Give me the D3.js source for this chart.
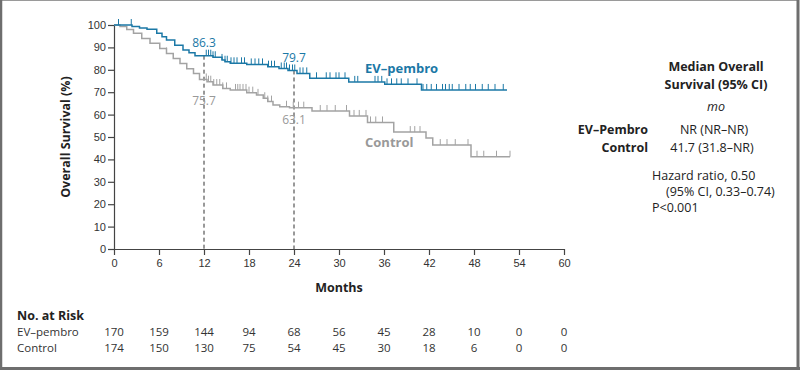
<!DOCTYPE html>
<html>
<head>
<meta charset="utf-8">
<title>Overall Survival</title>
<script src="https://cdn.jsdelivr.net/npm/d3@7"></script>
<style>
	html, body { margin: 0; padding: 0; background: white; }
	svg { display: block; font-family: 'Open Sans', sans-serif; }
	.axis path, .axis line { stroke: #444; stroke-width: 1.2; }
	.axis text { fill: #333; font-size: 11px; }
</style>
</head>
<body>
<svg id="chart" width="800" height="370"></svg>
<script>

// Kaplan-Meier steps (months, % surviving)
var evTimes = [0, 2.4, 3.4, 4.4, 5.7, 6.4, 7.0, 8.1, 9.2, 10.0, 10.8, 13.2, 14.4, 14.8, 15.5, 17.7, 20.5, 22.0, 23.2, 24.4, 26.1, 31.3, 36.1, 41.0];
var evSurv  = [100, 99.3, 98.7, 98.1, 96.3, 94.8, 93.3, 91.0, 88.8, 87.6, 86.3, 85.6, 84.4, 83.6, 82.9, 82.4, 81.4, 80.6, 79.7, 78.4, 76.2, 74.6, 73.5, 71.0];
var evEnd = 52.4;

var ctTimes = [0, 0.8, 1.7, 2.6, 3.7, 4.8, 6.1, 7.0, 7.9, 8.8, 9.7, 10.6, 11.4, 12.4, 13.2, 14.5, 15.5, 17.7, 19.0, 19.9, 20.5, 21.2, 22.1, 23.4, 26.4, 31.4, 33.8, 37.3, 41.6, 42.5, 47.6];
var ctSurv  = [100, 99.3, 98.0, 96.3, 94.0, 91.8, 89.5, 87.3, 85.0, 82.8, 80.5, 78.4, 75.7, 74.7, 73.2, 71.7, 71.0, 69.8, 68.8, 67.3, 65.8, 64.3, 63.5, 63.1, 61.6, 59.4, 56.5, 52.2, 49.6, 46.4, 41.2];
var ctEnd = 52.8;

// censoring marks (months)
var evCens = [0.6, 2.3, 12.3, 12.6, 12.9, 13.2, 13.5, 14.4, 14.8, 15.1, 15.6, 16.0, 16.4, 17.0, 17.4, 18.3, 18.8, 19.3, 19.8, 20.6, 21.0, 21.4, 22.3, 22.7, 23.0, 23.4, 23.8, 24.1, 24.8, 25.2, 25.7, 27.0, 28.3, 28.8, 29.6, 30.0, 30.8, 32.1, 32.5, 34.8, 35.2, 35.7, 36.4, 37.0, 37.7, 38.3, 39.2, 40.4, 41.2, 41.7, 42.3, 43.0, 43.8, 44.2, 44.7, 45.1, 46.0, 46.9, 47.5, 48.2, 49.1, 49.9, 50.8, 51.9];
var ctCens = [7.0, 12.3, 12.6, 12.9, 13.3, 13.7, 14.1, 14.5, 15.0, 16.2, 16.5, 16.8, 17.2, 17.6, 18.0, 18.5, 19.2, 20.1, 20.5, 21.0, 23.0, 23.9, 24.6, 25.3, 27.5, 28.4, 29.5, 31.0, 32.0, 32.7, 33.6, 34.2, 34.9, 35.8, 39.5, 40.1, 40.8, 43.5, 44.4, 45.5, 47.2, 48.4, 49.3, 51.0, 52.8];

var landmarkMonths = [12, 24];
var evLandmark = ["86.3", "79.7"];
var ctLandmark = ["75.7", "63.1"];

var xTicks = [0, 6, 12, 18, 24, 30, 36, 42, 48, 54, 60];
var yTicks = [0, 10, 20, 30, 40, 50, 60, 70, 80, 90, 100];
var riskGroups = ["EV\u2013pembro", "Control"];
var evRisk = [170, 159, 144, 94, 68, 56, 45, 28, 10, 0, 0];
var ctRisk = [174, 150, 130, 75, 54, 45, 30, 18, 6, 0, 0];

var blue = "#1b78a6";
var grey = "#a3a3a3";

var svg = d3.select("#chart");

var x = d3.scaleLinear().domain([0, 60]).range([114, 564]);
var y = d3.scaleLinear().domain([0, 100]).range([249, 25]);

// frame
svg.append("rect")
	.attr("x", 1).attr("y", 0.5).attr("width", 797).attr("height", 367.5)
	.attr("fill", "none").attr("stroke", "#9a9a9a").attr("stroke-width", 1);
svg.append("line").attr("x1", 1).attr("x2", 1).attr("y1", 0).attr("y2", 370).attr("stroke", "#6e6e6e").attr("stroke-width", 2.5);
svg.append("line").attr("x1", 798).attr("x2", 798).attr("y1", 0).attr("y2", 370).attr("stroke", "#6e6e6e").attr("stroke-width", 3);
svg.append("line").attr("x1", 0).attr("x2", 800).attr("y1", 368.5).attr("y2", 368.5).attr("stroke", "#6e6e6e").attr("stroke-width", 3);

// axes
svg.append("g").attr("class", "axis")
	.attr("transform", "translate(0,249)")
	.call(d3.axisBottom(x).tickValues(xTicks).tickSize(6).tickPadding(4).tickSizeOuter(0));

svg.append("g").attr("class", "axis")
	.attr("transform", "translate(114,0)")
	.call(d3.axisLeft(y).tickValues(yTicks).tickSize(6).tickPadding(2).tickSizeOuter(0));

svg.append("text")
	.attr("transform", "translate(70,137) rotate(-90)")
	.attr("text-anchor", "middle")
	.attr("font-size", 12.5).attr("font-weight", "bold").attr("fill", "#222")
	.text("Overall Survival (%)");

svg.append("text")
	.attr("x", x(30)).attr("y", 292)
	.attr("text-anchor", "middle")
	.attr("font-size", 12.5).attr("font-weight", "bold").attr("fill", "#222")
	.text("Months");

// survival lookup for a step curve
function survAt(times, surv, t) {
	var i = d3.bisectRight(times, t) - 1;
	return surv[Math.max(0, i)];
}

// dashed landmark lines
svg.selectAll(".landmark")
	.data(landmarkMonths)
	.enter().append("line")
	.attr("class", "landmark")
	.attr("x1", d => x(d)).attr("x2", d => x(d))
	.attr("y1", d => y(survAt(evTimes, evSurv, d)))
	.attr("y2", y(0))
	.attr("stroke", "#333").attr("stroke-width", 1)
	.attr("stroke-dasharray", "4,3");

function drawCurve(times, surv, end, cens, color) {
	var pts = times.map((t, i) => [t, surv[i]]);
	pts.push([end, surv[surv.length - 1]]);
	var line = d3.line()
		.x(d => x(d[0]))
		.y(d => y(d[1]))
		.curve(d3.curveStepAfter);

	svg.append("path")
		.datum(pts)
		.attr("fill", "none")
		.attr("stroke", color)
		.attr("stroke-width", 1.5)
		.attr("d", line);

	svg.append("g").selectAll("line")
		.data(cens)
		.enter().append("line")
		.attr("x1", d => x(d)).attr("x2", d => x(d))
		.attr("y1", d => y(survAt(times, surv, d)))
		.attr("y2", d => y(survAt(times, surv, d)) - 6)
		.attr("stroke", color)
		.attr("stroke-width", 1);
}

drawCurve(ctTimes, ctSurv, ctEnd, ctCens, grey);
drawCurve(evTimes, evSurv, evEnd, evCens, blue);

// landmark values
svg.selectAll(".evLab")
	.data(landmarkMonths)
	.enter().append("text")
	.attr("x", d => x(d)).attr("y", (d, i) => [47, 62][i])
	.attr("text-anchor", "middle")
	.attr("font-size", 12).attr("fill", blue)
	.text((d, i) => evLandmark[i]);

svg.selectAll(".ctLab")
	.data(landmarkMonths)
	.enter().append("text")
	.attr("x", d => x(d)).attr("y", (d, i) => [105, 124][i])
	.attr("text-anchor", "middle")
	.attr("font-size", 12).attr("fill", "#999")
	.text((d, i) => ctLandmark[i]);

// curve names
svg.append("text")
	.attr("x", 365).attr("y", 73)
	.attr("font-size", 13).attr("font-weight", "bold").attr("fill", blue)
	.text("EV\u2013pembro");

svg.append("text")
	.attr("x", 365).attr("y", 147)
	.attr("font-size", 13).attr("font-weight", "bold").attr("fill", "#999")
	.text("Control");

// median box on the right
var legend = svg.append("g").attr("fill", "#222").attr("font-size", 12.5);
legend.append("text").attr("x", 716).attr("y", 71).attr("text-anchor", "middle").attr("font-weight", "bold").text("Median Overall");
legend.append("text").attr("x", 716).attr("y", 89).attr("text-anchor", "middle").attr("font-weight", "bold").text("Survival (95% CI)");
legend.append("text").attr("x", 716).attr("y", 111).attr("text-anchor", "middle").attr("font-style", "italic").text("mo");
legend.append("text").attr("x", 648).attr("y", 134).attr("text-anchor", "end").attr("font-weight", "bold").text("EV\u2013Pembro");
legend.append("text").attr("x", 714).attr("y", 134).attr("text-anchor", "middle").text("NR (NR\u2013NR)");
legend.append("text").attr("x", 648).attr("y", 152).attr("text-anchor", "end").attr("font-weight", "bold").text("Control");
legend.append("text").attr("x", 712).attr("y", 152).attr("text-anchor", "middle").text("41.7 (31.8\u2013NR)");
legend.append("text").attr("x", 652).attr("y", 180).text("Hazard ratio, 0.50");
legend.append("text").attr("x", 666).attr("y", 196).text("(95% CI, 0.33\u20130.74)");
legend.append("text").attr("x", 652).attr("y", 212).text("P<0.001");

// number at risk
svg.append("text")
	.attr("x", 17).attr("y", 320)
	.attr("font-size", 12.5).attr("font-weight", "bold").attr("fill", "#222")
	.text("No. at Risk");

var riskRows = [evRisk, ctRisk];
riskRows.forEach(function(row, r) {
	var yy = 336 + r * 16;
	svg.append("text")
		.attr("x", 17).attr("y", yy)
		.attr("font-size", 11.5).attr("fill", "#333")
		.text(riskGroups[r]);
	svg.append("g").selectAll("text")
		.data(row)
		.enter().append("text")
		.attr("x", (d, i) => x(xTicks[i]))
		.attr("y", yy)
		.attr("text-anchor", "middle")
		.attr("font-size", 11.5).attr("fill", "#333")
		.text(d => d);
});

</script>
</body>
</html>
